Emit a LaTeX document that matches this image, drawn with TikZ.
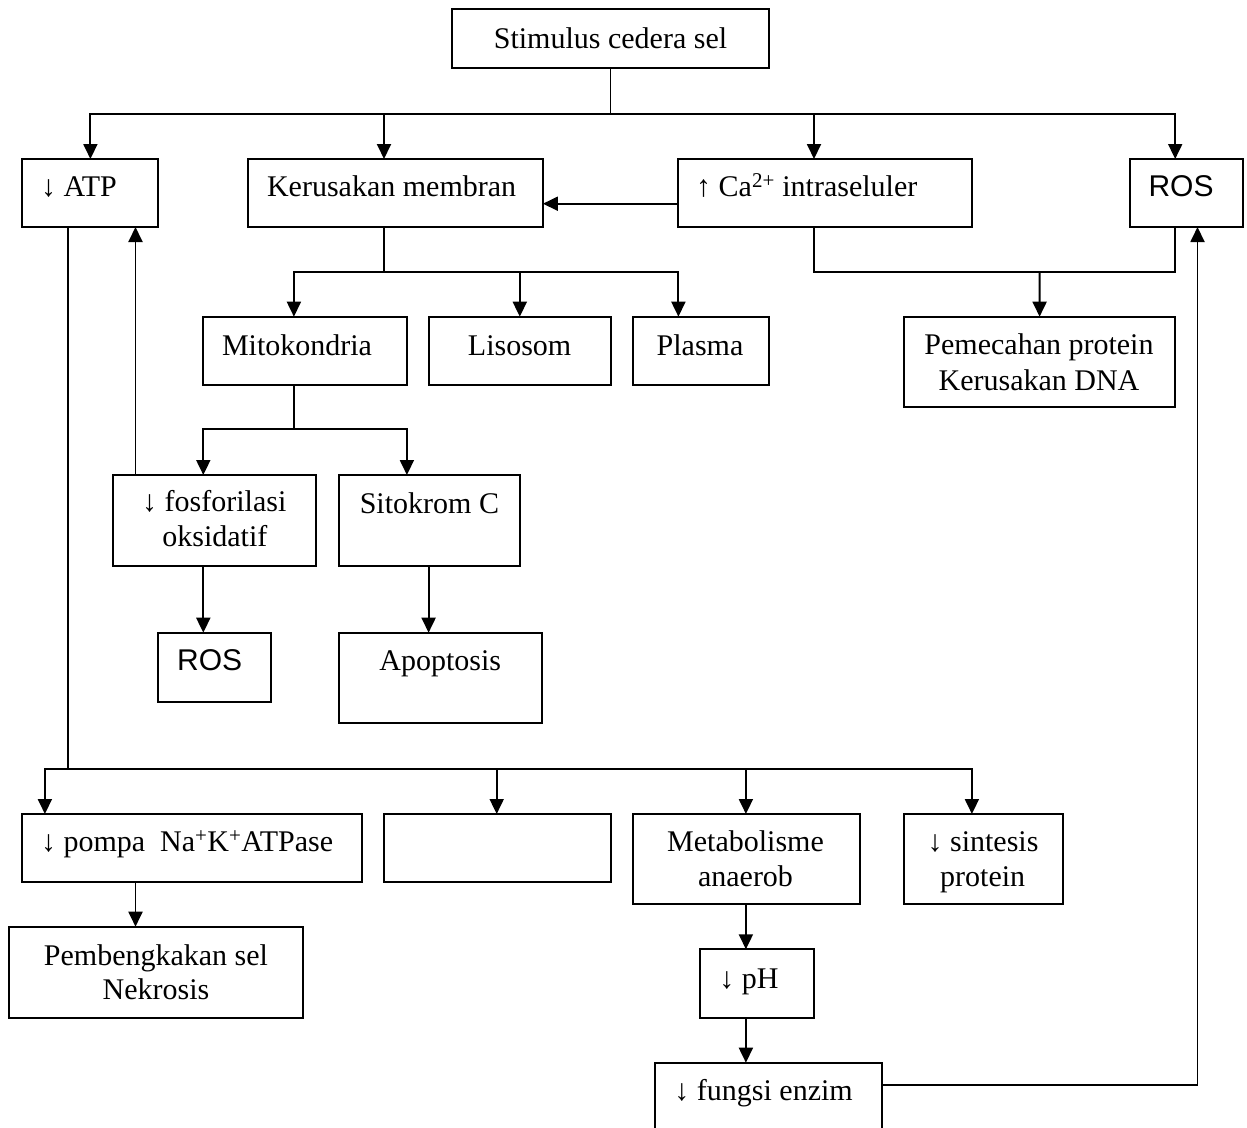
\documentclass[tikz,border=0pt]{standalone}
\usepackage{fontspec}
\setmainfont{Liberation Serif}
\newfontfamily\arialf{Liberation Sans}
\usetikzlibrary{arrows.meta}
\newcommand\mkbox[5]{\node[boxst,minimum width={#4-#2},minimum height={#5-#3}] (#1) at ({(#2+#4)/2},{(#3+#5)/2}) {};}
\begin{document}
\begin{tikzpicture}[x=1pt,y=-1pt,
  boxst/.style={draw, line width=2pt, inner sep=0pt, outer sep=0pt},
  txt/.style={anchor=base, inner sep=0pt, font=\fontsize{30}{35}\selectfont},
  txl/.style={txt, anchor=base west},
  ln/.style={line width=1.9pt},
  arr/.style={ln, -{Triangle[length=15pt,width=14pt]}}]
\clip (0,0) rectangle (1247,1127);
\fill[white] (0,0) rectangle (1247,1127);
% boxes
\mkbox{stim}{452}{9}{769}{68}
\mkbox{atp}{22.4}{159}{158.4}{227}
\mkbox{ker}{248.2}{159}{542.9}{227}
\mkbox{ca}{678}{159}{972}{227}
\mkbox{ros}{1129.6}{159}{1243.2}{227}
\mkbox{mito}{203.3}{316.7}{406.9}{385}
\mkbox{lis}{429}{316.7}{610.6}{385}
\mkbox{pla}{632.8}{316.7}{768.8}{385}
\mkbox{pem}{904}{316.7}{1175.2}{407.3}
\mkbox{fos}{112.7}{475}{316.3}{565.7}
\mkbox{sit}{338.8}{475}{519.6}{565.7}
\mkbox{rosb}{158}{632.7}{271}{701.7}
\mkbox{apo}{338.8}{632.7}{542}{723.3}
\mkbox{pom}{22.4}{814}{361.6}{882.3}
\mkbox{blank}{383.7}{814}{610.6}{882.3}
\mkbox{meta}{633}{814}{859.5}{904.3}
\mkbox{sin}{904.1}{814}{1062.8}{904.3}
\mkbox{bengk}{9}{926.7}{303.3}{1017.7}
\mkbox{ph}{700.4}{949.3}{814}{1017.7}
\mkbox{fen}{655}{1062.7}{881.8}{1145}
% texts
\node[txt] (t-stim) at (610.5,48) {Stimulus cedera sel};
\node[txl] (t-atp) at (40.8,196.7) {↓ ATP};
\node[txt] (t-ker) at (391.6,196.7) {Kerusakan membran};
\node[txl] (t-ca) at (696,196.7) {↑ Ca\textsuperscript{2+} intraseluler};
\node[txt] (t-ros) at (1181,196.7) {\arialf ROS};
\node[txt] (t-mito) at (297,355) {Mitokondria};
\node[txt] (t-lis) at (519.6,355) {Lisosom};
\node[txt] (t-pla) at (700,355) {Plasma};
\node[txt] (t-pem1) at (1039,354) {Pemecahan protein};
\node[txt] (t-pem2) at (1039,390) {Kerusakan DNA};
\node[txt] (t-fos1) at (214.3,511.7) {↓ fosforilasi};
\node[txt] (t-fos2) at (214.9,546.7) {oksidatif};
\node[txt] (t-sit) at (429.4,513.3) {Sitokrom C};
\node[txt] (t-rosb) at (209.6,670) {\arialf ROS};
\node[txt] (t-apo) at (440.2,670.7) {Apoptosis};
\node[txl] (t-pom) at (40.8,851.7) {↓ pompa\ \ Na\textsuperscript{+}K\textsuperscript{+}ATPase};
\node[txt] (t-bengk1) at (156,965) {Pembengkakan sel};
\node[txt] (t-bengk2) at (156,999.3) {Nekrosis};
\node[txt] (t-meta1) at (745.5,851.7) {Metabolisme};
\node[txt] (t-meta2) at (745.5,886.7) {anaerob};
\node[txt] (t-sin1) at (983,851.7) {↓ sintesis};
\node[txt] (t-sin2) at (982.7,886.7) {protein};
\node[txt] (t-ph) at (749,988.3) {↓ pH};
\node[txt] (t-fen) at (763.6,1100.7) {↓ fungsi enzim};
% junctions
\coordinate (j1) at (610.5,114);
\coordinate (j2) at (384,272);
\coordinate (j3) at (67.8,769);
\coordinate (j4) at (1039.6,272);
\coordinate (j5) at (293.9,429.3);
\coordinate (j6) at (1197.5,1085);
% connectors
\draw[ln] (stim.south) -- (j1);
\draw[arr] (j1) -| (atp.north);
\draw[arr] (j1) -| (384,0 |- ker.north);
\draw[arr] (j1) -| (814,0 |- ca.north);
\draw[arr] (j1) -| (1175.2,0 |- ros.north);
\draw[arr] (ca.west |- 0,203.7) -- (ker.east |- 0,203.7);
\draw[ln] (384,0 |- ker.south) -- (j2);
\draw[arr] (j2) -| (293.9,0 |- mito.north);
\draw[arr] (j2) -| (lis.north);
\draw[arr] (j2) -| (678.4,0 |- pla.north);
\draw[ln] (814,0 |- ca.south) -- (814,272) -- (1175.2,272) -- (1175.2,0 |- ros.south);
\draw[arr] (j4) -- (pem.north);
\draw[arr] (135.5,0 |- fos.north) -- (135.5,0 |- atp.south);
\draw[ln] (67.8,0 |- atp.south) -- (j3);
\draw[arr] (j3) -| (44.9,0 |- pom.north);
\draw[arr] (j3) -| (496.7,0 |- blank.north);
\draw[arr] (j3) -| (745.9,0 |- meta.north);
\draw[arr] (j3) -| (971.9,0 |- sin.north);
\draw[ln] (293.9,0 |- mito.south) -- (j5);
\draw[arr] (j5) -| (203.3,0 |- fos.north);
\draw[arr] (j5) -| (406.9,0 |- sit.north);
\draw[arr] (203.3,0 |- fos.south) -- (203.3,0 |- rosb.north);
\draw[arr] (428.6,0 |- sit.south) -- (428.6,0 |- apo.north);
\draw[arr] (135.5,0 |- pom.south) -- (135.5,0 |- bengk.north);
\draw[arr] (745.9,0 |- meta.south) -- (745.9,0 |- ph.north);
\draw[arr] (745.9,0 |- ph.south) -- (745.9,0 |- fen.north);
\draw[arr] (fen.east |- j6) -- (j6) -- (1197.5,0 |- ros.south);
\end{tikzpicture}
\end{document}
